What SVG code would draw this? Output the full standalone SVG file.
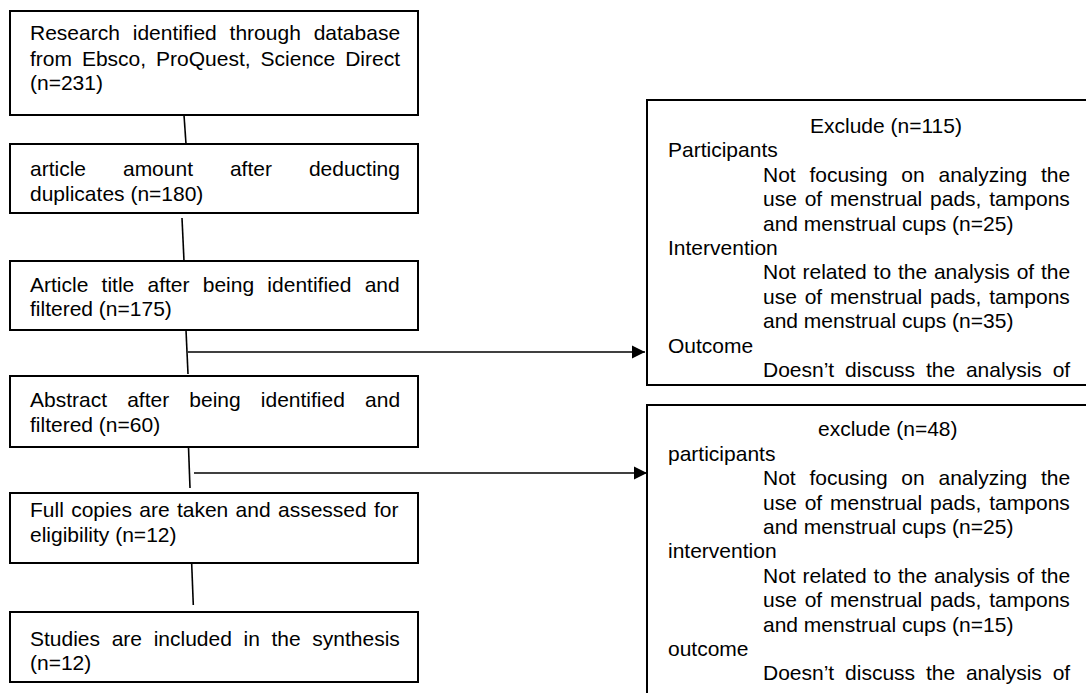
<svg xmlns="http://www.w3.org/2000/svg" width="1086" height="693" viewBox="0 0 1086 693">
<style>
.box{fill:#fff;stroke:#000;stroke-width:2}
.t{font-family:"Liberation Sans",Arial,sans-serif;font-size:21px;fill:#000}
.ln{stroke:#000;stroke-width:1.6;fill:none}
</style>
<defs>
<marker id="ah" markerWidth="14" markerHeight="14" refX="13" refY="7" orient="auto" markerUnits="userSpaceOnUse">
<path d="M0,0.5 L13,7 L0,13.5 Z" fill="#000"/>
</marker>
<clipPath id="clipR1"><rect x="647" y="100" width="450" height="279.5"/></clipPath>
</defs>
<rect width="1086" height="693" fill="#fff"/>

<g id="connectors">
<line class="ln" x1="184" y1="115" x2="186" y2="144"/>
<line class="ln" x1="182" y1="218" x2="184" y2="261"/>
<line class="ln" x1="186" y1="330" x2="188" y2="374"/>
<line class="ln" x1="188.5" y1="447" x2="190" y2="488"/>
<line class="ln" x1="191.7" y1="564" x2="193.3" y2="605"/>
<line class="ln" x1="188" y1="352" x2="645" y2="352" marker-end="url(#ah)"/>
<line class="ln" x1="194" y1="473" x2="647" y2="473" marker-end="url(#ah)"/>
</g>

<g id="n1">
<rect class="box" x="10" y="11" width="408" height="104"/>
<text class="t" x="30" y="40" word-spacing="7">Research identified through database</text>
<text class="t" x="30" y="65.5" word-spacing="4.1">from Ebsco, ProQuest, Science Direct</text>
<text class="t" x="30" y="90">(n=231)</text>
</g>

<g id="n2">
<rect class="box" x="10" y="144" width="408" height="69"/>
<text class="t" x="30" y="176" word-spacing="31.1">article amount after deducting</text>
<text class="t" x="30" y="200.5">duplicates (n=180)</text>
</g>

<g id="n3">
<rect class="box" x="10" y="261" width="408" height="69"/>
<text class="t" x="30" y="292" word-spacing="7.4">Article title after being identified and</text>
<text class="t" x="30" y="316">filtered (n=175)</text>
</g>

<g id="n4">
<rect class="box" x="10" y="376" width="408" height="71"/>
<text class="t" x="30" y="407" word-spacing="14.3">Abstract after being identified and</text>
<text class="t" x="30" y="431.5">filtered (n=60)</text>
</g>

<g id="n5">
<rect class="box" x="10" y="493" width="408" height="70"/>
<text class="t" x="30" y="517" word-spacing="1.5">Full copies are taken and assessed for</text>
<text class="t" x="30" y="541.5">eligibility (n=12)</text>
</g>

<g id="n6">
<rect class="box" x="10" y="612" width="408" height="70"/>
<text class="t" x="30" y="646" word-spacing="5.8">Studies are included in the synthesis</text>
<text class="t" x="30" y="670">(n=12)</text>
</g>

<g id="exclude1">
<rect class="box" x="647" y="100" width="450" height="285"/>
<g clip-path="url(#clipR1)">
<text class="t" x="810" y="133">Exclude (n=115)</text>
<text class="t" x="668" y="157.4">Participants</text>
<text class="t" x="763" y="181.8" word-spacing="7.9">Not focusing on analyzing the</text>
<text class="t" x="763" y="206.2" word-spacing="2">use of menstrual pads, tampons</text>
<text class="t" x="763" y="230.6">and menstrual cups (n=25)</text>
<text class="t" x="668" y="255">Intervention</text>
<text class="t" x="763" y="279.4" word-spacing="1">Not related to the analysis of the</text>
<text class="t" x="763" y="303.8" word-spacing="2">use of menstrual pads, tampons</text>
<text class="t" x="763" y="328.2">and menstrual cups (n=35)</text>
<text class="t" x="668" y="352.6">Outcome</text>
<text class="t" x="763" y="377" word-spacing="5">Doesn’t discuss the analysis of</text>
</g>
</g>

<g id="exclude2">
<rect class="box" x="647" y="405" width="450" height="300"/>
<text class="t" x="818" y="436.3">exclude (n=48)</text>
<text class="t" x="668" y="460.7">participants</text>
<text class="t" x="763" y="485.1" word-spacing="7.9">Not focusing on analyzing the</text>
<text class="t" x="763" y="509.5" word-spacing="2">use of menstrual pads, tampons</text>
<text class="t" x="763" y="533.9">and menstrual cups (n=25)</text>
<text class="t" x="668" y="558.3">intervention</text>
<text class="t" x="763" y="582.7" word-spacing="1">Not related to the analysis of the</text>
<text class="t" x="763" y="607.1" word-spacing="2">use of menstrual pads, tampons</text>
<text class="t" x="763" y="631.5">and menstrual cups (n=15)</text>
<text class="t" x="668" y="655.9">outcome</text>
<text class="t" x="763" y="680.3" word-spacing="5">Doesn’t discuss the analysis of</text>
</g>
</svg>
